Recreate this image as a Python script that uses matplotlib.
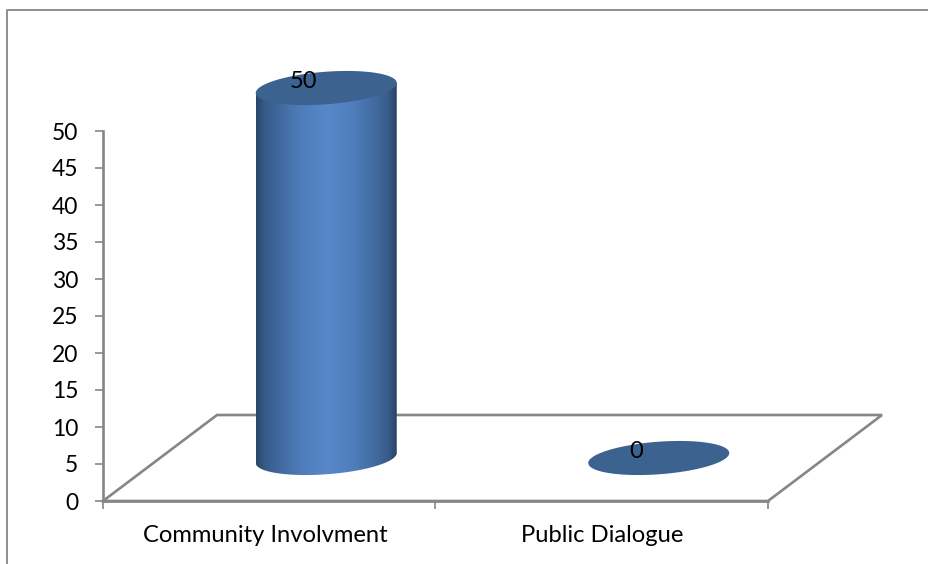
import numpy as np
import matplotlib
matplotlib.use("Agg")
import matplotlib.pyplot as plt
from matplotlib.lines import Line2D
from matplotlib.patches import Polygon
from matplotlib.colors import LinearSegmentedColormap

categories = ["Community Involvment", "Public Dialogue"]
values = [50, 0]
y_ticks = [0, 5, 10, 15, 20, 25, 30, 35, 40, 45, 50]

W, H = 929, 564
GREY = "#868686"
plt.rcParams["font.family"] = ["Lato", "DejaVu Sans"]

fig = plt.figure(figsize=(W / 100, H / 100), dpi=100, facecolor="white")
L, R, B, T = 103, 768, 501, 131
ax = fig.add_axes([L / W, 1 - B / H, (R - L) / W, (B - T) / H])
ax.set_xlim(0, len(categories))
ax.set_ylim(0, 50)
ax.patch.set_alpha(0)

ux = (R - L) / len(categories)   # px per category
uy = (B - T) / 50                # px per value unit
px = lambda p: p / ux
py = lambda p: p / uy

# outer chart frame
fig.add_artist(Line2D([7 / W, 7 / W, 1], [0, 1 - 10 / H, 1 - 10 / H], color=GREY, lw=1.3,
                      transform=fig.transFigure))

# floor
dx, dy = px(114), py(86)
n = len(categories)
ax.plot([0, dx, n + dx, n, 0], [0, dy, dy, 0, 0], color=GREY, lw=1.9, clip_on=False,
        solid_joinstyle="miter", zorder=1)

# axes
for s in ["top", "right"]:
    ax.spines[s].set_visible(False)
for s in ["left", "bottom"]:
    ax.spines[s].set_color(GREY)
    ax.spines[s].set_linewidth(1.9)
ax.set_yticks(y_ticks)
ax.set_xticks(range(n + 1))
ax.set_xticklabels([])
ax.tick_params(axis="both", color=GREY, width=1.2, length=5.5, labelsize=16.5, pad=12.4,
               labelcolor="black")

# cylinders
a, b, c = px(70.5), py(16.3), py(5)
t = np.linspace(0, 2 * np.pi, 241)
cmap = LinearSegmentedColormap.from_list(
    "cyl", [(0.0, "#2b4568"), (0.06, "#365a88"), (0.16, "#41699f"), (0.32, "#4e7db9"),
            (0.5, "#5888ca"), (0.68, "#4f7fbc"), (0.84, "#426ca2"), (0.94, "#375c8a"),
            (1.0, "#2a4362")])
grad = np.linspace(0, 1, 256)[None, :]
top_col = "#3c628f"

for i, v in enumerate(values):
    cx = i + 0.5 + dx / 2
    cy0 = dy / 2
    cy1 = cy0 + v
    if v > 0:
        th = np.linspace(np.pi, 2 * np.pi, 120)
        lower = np.column_stack([cx + a * np.cos(th), cy0 + b * np.sin(th) + c * np.cos(th)])
        body = np.vstack([[cx - a, cy1 - c], lower, [cx + a, cy1 + c]])
        patch = Polygon(body, closed=True, transform=ax.transData, fc="none", ec="none")
        ax.add_patch(patch)
        im = ax.imshow(grad, cmap=cmap, extent=[cx - a, cx + a, cy0 - 2 * b, cy1 + b],
                       aspect="auto", zorder=3)
        im.set_clip_box(fig.bbox)
        im.set_clip_path(patch)
    ax.fill(cx + a * np.cos(t), cy1 + b * np.sin(t) + c * np.cos(t), color=top_col, lw=0,
            zorder=4, clip_on=False)
    ax.text(cx - px(23), cy1 + py(7), str(v), ha="center", va="center", fontsize=17,
            color="black", zorder=5, clip_on=False)

ax.set_xlim(0, n)
ax.set_ylim(0, 50)

# category labels
for i, name in enumerate(categories):
    shift = px(-3.5) if i == 0 else 0
    ax.text(i + 0.5 + shift, py(-34), name, ha="center", va="center", fontsize=17.1,
            color="black", clip_on=False)

fig.savefig("out.png", dpi=100, facecolor="white")
